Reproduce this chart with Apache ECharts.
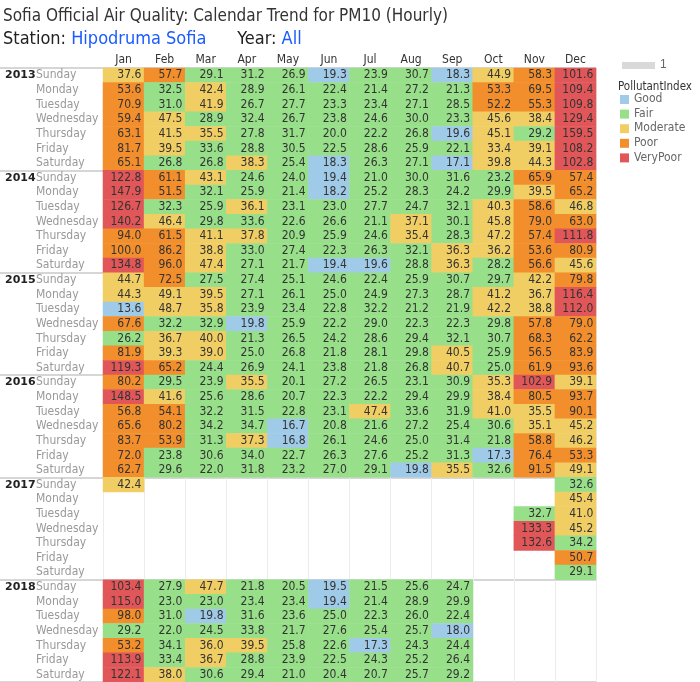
<!DOCTYPE html>
<html><head><meta charset="utf-8">
<script src="https://cdn.jsdelivr.net/npm/echarts@6/dist/echarts.min.js"></script>
<style>html,body{margin:0;padding:0;background:#fff}#c{width:700px;height:682px}</style>
</head><body><div id="c"></div>
<script>
const months = ["Jan","Feb","Mar","Apr","May","Jun","Jul","Aug","Sep","Oct","Nov","Dec"];
const days = ["Sunday","Monday","Tuesday","Wednesday","Thursday","Friday","Saturday"];
const years = ["2013","2014","2015","2016","2017","2018"];
const indexNames = ["Good","Fair","Moderate","Poor","VeryPoor"];
const indexColors = ["#a0cbe8","#98df8a","#f1ce63","#f28e2b","#e15759"];
const N = null;
const v2013 = [
 [37.6,57.7,29.1,31.2,26.9,19.3,23.9,30.7,18.3,44.9,58.3,101.6],
 [53.6,32.5,42.4,28.9,26.1,22.4,21.4,27.2,21.3,53.3,69.5,109.4],
 [70.9,31.0,41.9,26.7,27.7,23.3,23.4,27.1,28.5,52.2,55.3,109.8],
 [59.4,47.5,28.9,32.4,26.7,23.8,24.6,30.0,23.3,45.6,38.4,129.4],
 [63.1,41.5,35.5,27.8,31.7,20.0,22.2,26.8,19.6,45.1,29.2,159.5],
 [81.7,39.5,33.6,28.8,30.5,22.5,28.6,25.9,22.1,33.4,39.1,108.2],
 [65.1,26.8,26.8,38.3,25.4,18.3,26.3,27.1,17.1,39.8,44.3,102.8]];
const c2013 = ["MPFFFGFFGMPV","PFMFFFFFFPPV","PFMFFFFFFPPV","PMFFFFFFFMMV","PMMFFFFFGMFV","PMFFFFFFFMMV","PFFMFGFFGMMV"];
const v2014 = [
 [122.8,61.1,43.1,24.6,24.0,19.4,21.0,30.0,31.6,23.2,65.9,57.4],
 [147.9,51.5,32.1,25.9,21.4,18.2,25.2,28.3,24.2,29.9,39.5,65.2],
 [126.7,32.3,25.9,36.1,23.1,23.0,27.7,24.7,32.1,40.3,58.6,46.8],
 [140.2,46.4,29.8,33.6,22.6,26.6,21.1,37.1,30.1,45.8,79.0,63.0],
 [94.0,61.5,41.1,37.8,20.9,25.9,24.6,35.4,28.3,47.2,57.4,111.8],
 [100.0,86.2,38.8,33.0,27.4,22.3,26.3,32.1,36.3,36.2,53.6,80.9],
 [134.8,96.0,47.4,27.1,21.7,19.4,19.6,28.8,36.3,28.2,56.6,45.6]];
const c2014 = ["VPMFFGFFFFPP","VPFFFGFFFFMP","VFFMFFFFFMPM","VMFFFFFMFMPP","PPMMFFFMFMPV","PPMFFFFFMMPP","VPMFFGGFMFPM"];
const v2015 = [
 [44.7,72.5,27.5,27.4,25.1,24.6,22.4,25.9,30.7,29.7,42.2,79.8],
 [44.3,49.1,39.5,27.1,26.1,25.0,24.9,27.3,28.7,41.2,36.7,116.4],
 [13.6,48.7,35.8,23.9,23.4,22.8,32.2,21.2,21.9,42.2,38.8,112.0],
 [67.6,32.2,32.9,19.8,25.9,22.2,29.0,22.3,22.3,29.8,57.8,79.0],
 [26.2,36.7,40.0,21.3,26.5,24.2,28.6,29.4,32.1,30.7,68.3,62.2],
 [81.9,39.3,39.0,25.0,26.8,21.8,28.1,29.8,40.5,25.9,56.5,83.9],
 [119.3,65.2,24.4,26.9,24.1,23.8,21.8,26.8,40.7,25.0,61.9,93.6]];
const c2015 = ["MPFFFFFFFFMP","MMMFFFFFFMMV","GMMFFFFFFMMV","PFFGFFFFFFPP","FMMFFFFFFFPP","PMMFFFFFMFPP","VPFFFFFFMFPP"];
const v2016 = [
 [80.2,29.5,23.9,35.5,20.1,27.2,26.5,23.1,30.9,35.3,102.9,39.1],
 [148.5,41.6,25.6,28.6,20.7,22.3,22.2,29.4,29.9,38.4,80.5,93.7],
 [56.8,54.1,32.2,31.5,22.8,23.1,47.4,33.6,31.9,41.0,35.5,90.1],
 [65.6,80.2,34.2,34.7,16.7,20.8,21.6,27.2,25.4,30.6,35.1,45.2],
 [83.7,53.9,31.3,37.3,16.8,26.1,24.6,25.0,31.4,21.8,58.8,46.2],
 [72.0,23.8,30.6,34.0,22.7,26.3,27.6,25.2,31.3,17.3,76.4,53.3],
 [62.7,29.6,22.0,31.8,23.2,27.0,29.1,19.8,35.5,32.6,91.5,49.1]];
const c2016 = ["PFFMFFFFFMVM","VMFFFFFFFMPP","PPFFFFMFFMMP","PPFFGFFFFFMM","PPFMGFFFFFPM","PFFFFFFFFGPP","PFFFFFFGMFPM"];
const v2017 = [
 [42.4,N,N,N,N,N,N,N,N,N,N,32.6],
 [N,N,N,N,N,N,N,N,N,N,N,45.4],
 [N,N,N,N,N,N,N,N,N,N,32.7,41.0],
 [N,N,N,N,N,N,N,N,N,N,133.3,45.2],
 [N,N,N,N,N,N,N,N,N,N,132.6,34.2],
 [N,N,N,N,N,N,N,N,N,N,N,50.7],
 [N,N,N,N,N,N,N,N,N,N,N,29.1]];
const c2017 = ["M----------F","-----------M","----------FM","----------VM","----------VF","-----------P","-----------F"];
const v2018 = [
 [103.4,27.9,47.7,21.8,20.5,19.5,21.5,25.6,24.7,N,N,N],
 [115.0,23.0,23.0,23.4,23.4,19.4,21.4,28.9,29.9,N,N,N],
 [98.0,31.0,19.8,31.6,23.6,25.0,22.3,26.0,22.4,N,N,N],
 [29.2,22.0,24.5,33.8,21.7,27.6,25.4,25.7,18.0,N,N,N],
 [53.2,34.1,36.0,39.5,25.8,22.6,17.3,24.3,24.4,N,N,N],
 [113.9,33.4,36.7,28.8,23.9,22.5,24.3,25.2,26.4,N,N,N],
 [122.1,38.0,30.6,29.4,21.0,20.4,20.7,25.7,29.2,N,N,N]];
const c2018 = ["VFMFFGFFF---","VFFFFGFFF---","PFGFFFFFF---","FFFFFFFFG---","PFMMFFGFF---","VFMFFFFFF---","VMFFFFFFF---"];

const vals = [v2013,v2014,v2015,v2016,v2017,v2018];
const cats = [c2013,c2014,c2015,c2016,c2017,c2018];
const code = {G:0,F:1,M:2,P:3,V:4};
const rows = [];
const data = [];
years.forEach((y,yi)=>days.forEach((d,di)=>{
  const r = yi*7+di; rows.push(y+"|"+d);
  months.forEach((m,mi)=>{
    const v = vals[yi][di][mi];
    if(v!==null) data.push([mi,r,v,code[cats[yi][di][mi]]]);
  });
}));

const chart = echarts.init(document.getElementById('c'));
const legendItems = indexNames.map((n,i)=>[
  {type:'rect',left:620,top:95+i*14.6,shape:{width:9,height:9},style:{fill:indexColors[i]}},
  {type:'text',left:634,top:93+i*14.6,style:{text:n,fill:'#666',font:'12px "DejaVu Sans Condensed", "Liberation Sans", sans-serif'}}
]).flat();
chart.setOption({
  animation:false,
  grid:{left:103,right:104,top:68,bottom:0},
  graphic:[
    {type:'text',left:3,top:8,style:{text:'Sofia Official Air Quality: Calendar Trend for PM10 (Hourly)',fill:'#333',font:'17px "DejaVu Sans Condensed", sans-serif'}},
    {type:'text',left:3,top:30,style:{text:'{a|Station: }{b|Hipodruma Sofia}{a|      Year: }{b|All}',
      rich:{a:{fill:'#222',font:'18px "DejaVu Sans Condensed", sans-serif'},b:{fill:'#1a5cff',font:'18px "DejaVu Sans Condensed", sans-serif'}}}},
    {type:'rect',left:622,top:62,shape:{width:33,height:7},style:{fill:'#d9d9d9'}},
    {type:'text',left:660,top:59,style:{text:'1',fill:'#666',font:'12px sans-serif'}},
    {type:'text',left:618,top:81,style:{text:'PollutantIndex',fill:'#333',font:'11.5px "DejaVu Sans Condensed", sans-serif'}},
    ...legendItems
  ],
  xAxis:{type:'category',data:months,position:'top',
    axisLine:{show:false},axisTick:{show:false},
    axisLabel:{color:'#333',fontSize:12,fontFamily:'"DejaVu Sans Condensed", sans-serif',margin:2},
    splitLine:{show:true,interval:0,lineStyle:{color:'#ececec'}}},
  yAxis:[
    {type:'category',data:rows,inverse:true,
     axisLine:{show:false},
     axisTick:{show:true,length:103,interval:(i)=>i%7===0,lineStyle:{color:'#d6d6d6',width:2}},
     axisLabel:{interval:0,align:'left',margin:67,color:'#999',fontSize:12,fontFamily:'"DejaVu Sans Condensed", sans-serif',formatter:(s)=>s.split('|')[1]},
     splitLine:{show:true,interval:(i)=>i%7===0,lineStyle:{color:'#d6d6d6',width:2}}},
    {type:'category',data:rows,inverse:true,position:'left',
     axisLine:{show:false},axisTick:{show:false},
     axisLabel:{interval:0,align:'left',margin:98,color:'#222',fontWeight:'bold',fontSize:11,fontFamily:'"DejaVu Sans", sans-serif',
       formatter:(s)=>s.split('|')[1]==='Sunday'?s.split('|')[0]:''}}
  ],
  visualMap:{show:false,type:'piecewise',dimension:3,
    pieces:indexNames.map((n,i)=>({value:i,label:n,color:indexColors[i]}))},
  series:[{type:'heatmap',data:data,
    label:{show:true,position:'insideRight',distance:3,color:'#333',fontSize:12,fontFamily:'"DejaVu Sans Condensed", sans-serif',
      formatter:(p)=>p.value[2].toFixed(1)},
    itemStyle:{borderWidth:0}}]
});
</script></body></html>
